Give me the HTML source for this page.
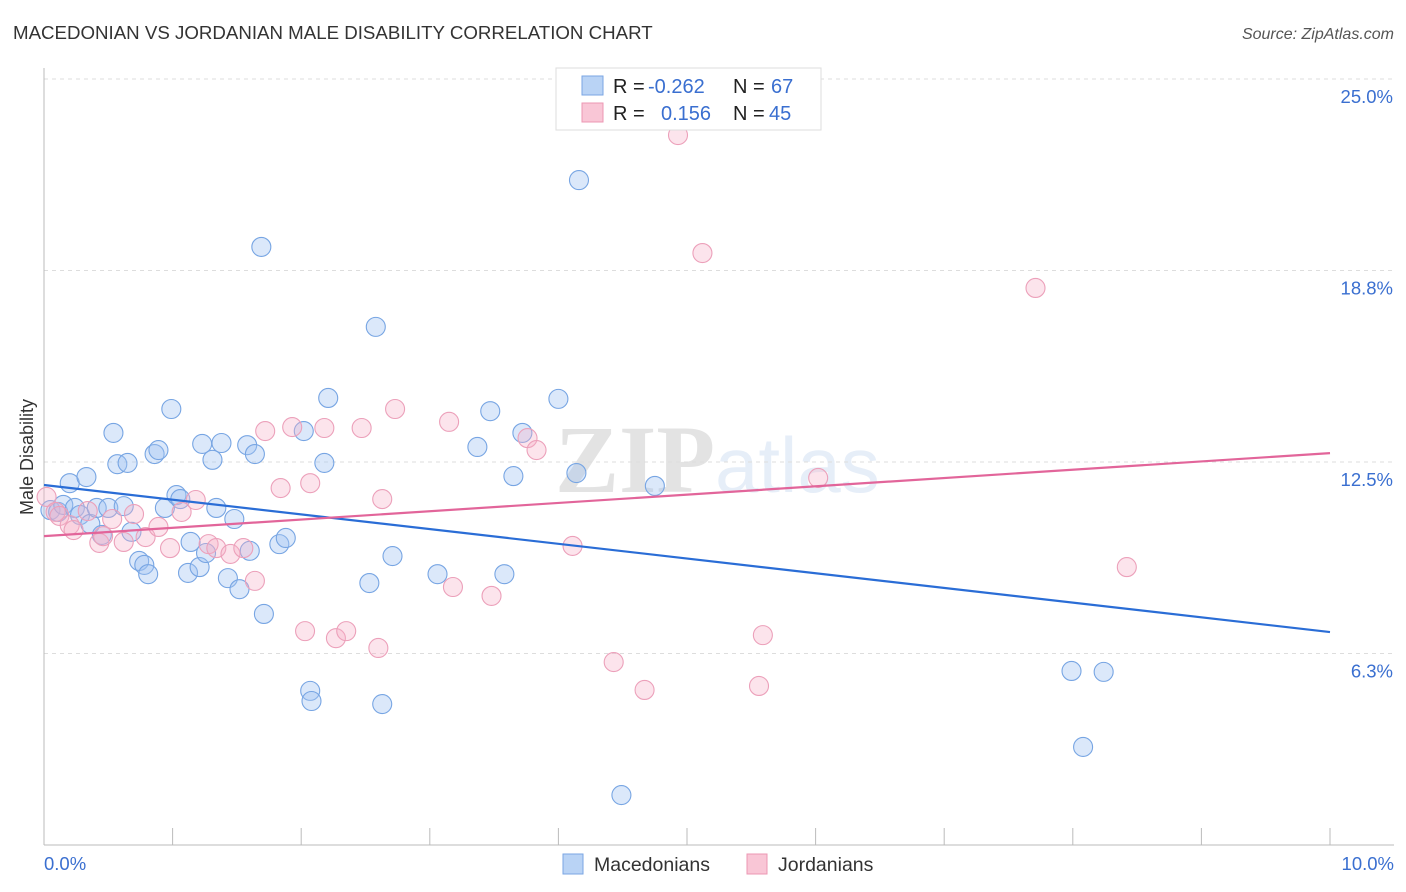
<!DOCTYPE html>
<html><head><meta charset="utf-8"><style>
body{margin:0;background:#fff;font-family:"Liberation Sans",sans-serif;}
svg{display:block}
</style></head><body>
<svg id="chart" width="1406" height="892">
<text x="13" y="39" font-size="18.7" fill="#333">MACEDONIAN VS JORDANIAN MALE DISABILITY CORRELATION CHART</text>
<text x="1394" y="39" font-size="16" fill="#555" text-anchor="end" font-style="italic">Source: ZipAtlas.com</text>
<text x="33" y="457" font-size="18" fill="#333" text-anchor="middle" transform="rotate(-90 33 457)">Male Disability</text>
<g opacity="0.13">
<text x="555" y="492" font-size="96" font-family="Liberation Serif,serif" font-weight="bold" fill="#333">ZIP</text>
<text x="715" y="492" font-size="78" fill="#4a7fd0">atlas</text>
</g>
<g id="grid"></g><g id="axes"></g><g id="pts"></g><g id="trends"></g>
<g>
<rect x="556" y="68" width="265" height="62" fill="#fff" stroke="#ddd"/>
<rect x="582" y="76" width="21" height="19" fill="#b9d3f5" stroke="#7aa6e3"/>
<rect x="582" y="103" width="21" height="19" fill="#f9c6d6" stroke="#ec97b3"/>
<text x="613" y="93" font-size="20" fill="#222">R = <tspan x="648" fill="#3a6fd0">-0.262</tspan><tspan x="733">N = </tspan><tspan x="771" fill="#3a6fd0">67</tspan></text>
<text x="613" y="120" font-size="20" fill="#222">R = <tspan x="661" fill="#3a6fd0">0.156</tspan><tspan x="733">N = </tspan><tspan x="769" fill="#3a6fd0">45</tspan></text>
</g>
<g>
<rect x="563" y="854" width="20" height="20" fill="#b9d3f5" stroke="#7aa6e3"/>
<text x="594" y="871" font-size="19.5" fill="#333">Macedonians</text>
<rect x="747" y="854" width="20" height="20" fill="#f9c6d6" stroke="#ec97b3"/>
<text x="778" y="871" font-size="19.5" fill="#333">Jordanians</text>
</g>
</svg>
<script>
const yTicks=[6.25,12.5,18.75,25];
const yTickLabels=["6.3%","12.5%","18.8%","25.0%"];
const xTickLabels=["0.0%","10.0%"];
const blueX=[0.05,0.11,0.15,0.20,0.24,0.33,0.28,0.36,0.41,0.45,0.50,0.54,0.57,0.62,0.65,0.68,0.74,0.78,0.81,0.86,0.89,0.94,0.99,1.03,1.06,1.12,1.14,1.21,1.23,1.26,1.31,1.34,1.38,1.43,1.48,1.52,1.58,1.60,1.64,1.69,1.71,1.83,1.88,2.02,2.07,2.08,2.18,2.21,2.53,2.58,2.63,2.71,3.06,3.37,3.47,3.58,3.65,3.72,4.0,4.14,4.16,4.49,4.75,7.99,8.08,8.24];
const blueY=[10.93,10.87,11.10,11.81,11.0,12.01,10.77,10.48,11.0,10.12,11.0,13.45,12.43,11.06,12.47,10.22,9.27,9.14,8.84,12.76,12.89,11.0,14.23,11.42,11.29,8.88,9.89,9.07,13.09,9.53,12.57,11.0,13.12,8.71,10.64,8.35,13.05,9.60,12.76,19.52,7.54,9.82,10.02,13.51,5.03,4.70,12.47,14.59,8.55,16.91,4.60,9.43,8.84,12.99,14.16,8.84,12.04,13.45,14.56,12.14,21.70,1.63,11.72,5.68,3.20,5.65];
const pinkX=[0.02,0.09,0.12,0.20,0.23,0.34,0.43,0.46,0.53,0.62,0.70,0.79,0.89,0.98,1.07,1.18,1.28,1.34,1.45,1.55,1.64,1.72,1.84,1.93,2.03,2.07,2.18,2.27,2.35,2.47,2.60,2.63,2.73,3.15,3.18,3.48,3.76,3.83,4.11,4.43,4.67,4.93,5.12,5.56,5.59,6.02,7.71,8.42];
const pinkY=[11.36,10.87,10.74,10.44,10.28,10.90,9.86,10.08,10.64,9.89,10.80,10.05,10.38,9.69,10.87,11.26,9.82,9.69,9.50,9.69,8.62,13.51,11.65,13.64,6.98,11.81,13.61,6.75,6.98,13.61,6.43,11.29,14.23,13.81,8.42,8.13,13.28,12.89,9.76,5.97,5.06,23.17,19.32,5.19,6.85,11.98,18.18,9.07];
const blueTrend=[11.75,6.95];
const pinkTrend=[10.08,12.79];
const NS="http://www.w3.org/2000/svg";
const X=v=>44+v*128.6, Y=v=>845-v*30.64;
function mk(tag,attrs,parent){const e=document.createElementNS(NS,tag);for(const k in attrs)e.setAttribute(k,attrs[k]);parent.appendChild(e);return e;}
const grid=document.getElementById('grid'),axes=document.getElementById('axes'),pts=document.getElementById('pts'),tr=document.getElementById('trends');
yTicks.forEach((t,i)=>{
 const l=mk('line',{x1:44,x2:1394,y1:Y(t),y2:Y(t),stroke:'#ddd','stroke-dasharray':'4,4'},grid);
 
 
 const tx=mk('text',{x:1393,y:Y(t)+24,'font-size':18.5,fill:'#3a6fd0','text-anchor':'end'},axes);
 tx.textContent=yTickLabels[i];
 
 
});
const ax=mk('line',{x1:44,x2:1394,y1:845,y2:845,stroke:'#bbb'},axes);


const ay=mk('line',{x1:44,x2:44,y1:68,y2:845,stroke:'#bbb'},axes);


for(let i=0;i<=10;i++){
 const t=mk('line',{x1:X(i),x2:X(i),y1:828,y2:845,stroke:'#bbb'},axes);
 
 
}
[[0,'start'],[10,'end']].forEach((a,i)=>{
 const tx=mk('text',{x:a[0]==0?44:1394,y:870,'font-size':18.5,fill:'#3a6fd0','text-anchor':a[1]},axes);
 tx.textContent=xTickLabels[i];
 
 
});
blueX.forEach((x,i)=>{
 const c=mk('circle',{cx:X(x),cy:Y(blueY[i]),r:9.5,fill:'rgba(160,195,242,0.38)',stroke:'#77a5e3','stroke-width':1.1},pts);
 
 
});
pinkX.forEach((x,i)=>{
 const c=mk('circle',{cx:X(x),cy:Y(pinkY[i]),r:9.5,fill:'rgba(245,175,198,0.34)',stroke:'#eca0ba','stroke-width':1.1},pts);
 
 
});
const bl=mk('line',{x1:X(0),x2:X(10),y1:Y(blueTrend[0]),y2:Y(blueTrend[1]),stroke:'#2a6dd6','stroke-width':2.2},tr);


const pl=mk('line',{x1:X(0),x2:X(10),y1:Y(pinkTrend[0]),y2:Y(pinkTrend[1]),stroke:'#e2659a','stroke-width':2.2},tr);


</script>
</body></html>
